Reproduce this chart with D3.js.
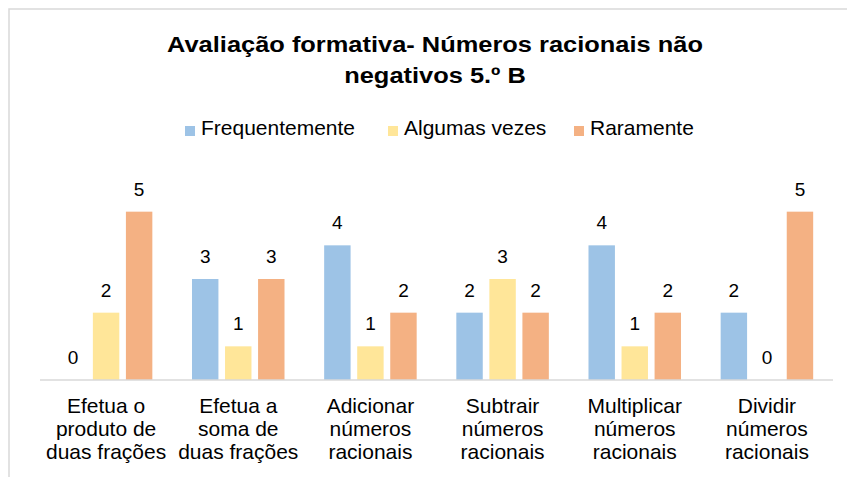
<!DOCTYPE html>
<html>
<head>
<meta charset="utf-8">
<script src="https://cdn.jsdelivr.net/npm/d3@7"></script>
<style>
  body { margin: 0; background: #fff; }
  text { font-family: "Liberation Sans", Arial, sans-serif; fill: #000; }
</style>
</head>
<body>
<div id="chart"></div>
<script>
// data
const categories = [
  ["Efetua o", "produto de", "duas frações"],
  ["Efetua a", "soma de", "duas frações"],
  ["Adicionar", "números", "racionais"],
  ["Subtrair", "números", "racionais"],
  ["Multiplicar", "números", "racionais"],
  ["Dividir", "números", "racionais"]
];
const seriesNames = ["Frequentemente", "Algumas vezes", "Raramente"];
const frequentemente = [0, 3, 4, 2, 4, 2];
const algumasVezes = [2, 1, 1, 3, 1, 0];
const raramente = [5, 3, 2, 2, 2, 5];
const seriesColors = ["#9dc3e6", "#ffe699", "#f4b183"];
const titleLines = ["Avaliação formativa- Números racionais não", "negativos 5.º B"];

const W = 847, H = 477;
const svg = d3.select("#chart").append("svg").attr("width", W).attr("height", H);

// chart frame (cut at right / bottom like the source)
svg.append("rect")
  .attr("x", 9).attr("y", 9)
  .attr("width", W + 20).attr("height", H + 20)
  .attr("fill", "none").attr("stroke", "#d9d9d9").attr("stroke-width", 1.5);

// title (source font renders a bit wider, so stretch horizontally)
svg.append("g").attr("transform", "translate(435,0) scale(1.13,1)")
  .append("text")
  .attr("text-anchor", "middle")
  .style("font-size", "22.5px").style("font-weight", "bold")
  .selectAll("tspan").data(titleLines).join("tspan")
  .attr("x", 0).attr("y", (d, i) => 52 + i * 31)
  .text(d => d);

// legend
const legendX = [185, 388, 574];
const lg = svg.append("g").selectAll("g").data(seriesNames).join("g")
  .attr("transform", (d, i) => `translate(${legendX[i]},135)`);
lg.append("rect").attr("x", 0).attr("y", -9).attr("width", 10).attr("height", 10)
  .attr("fill", (d, i) => seriesColors[i]);
lg.append("text").attr("transform", "translate(16,0) scale(1.05,1)")
  .style("font-size", "20px").text(d => d);

// scales
const plot = {left: 40, right: 833, bottom: 380, top: 178};
const x0 = d3.scaleBand().domain(d3.range(categories.length)).range([plot.left, plot.right]);
const groupW = x0.bandwidth() * 0.7;
const x1 = d3.scaleBand().domain(d3.range(seriesNames.length)).range([0, groupW]).paddingInner(0.2);
const y = d3.scaleLinear().domain([0, 6]).range([plot.bottom, plot.top]);

const rows = categories.map((c, i) => [frequentemente[i], algumasVezes[i], raramente[i]]);

const groups = svg.append("g").selectAll("g").data(rows).join("g")
  .attr("transform", (d, i) => `translate(${x0(i) + (x0.bandwidth() - groupW) / 2},0)`);

groups.selectAll("rect").data(d => d).join("rect")
  .attr("x", (d, j) => x1(j))
  .attr("y", d => y(d))
  .attr("width", x1.bandwidth())
  .attr("height", d => y(0) - y(d))
  .attr("fill", (d, j) => seriesColors[j]);

groups.selectAll("text").data(d => d).join("text")
  .attr("x", (d, j) => x1(j) + x1.bandwidth() / 2)
  .attr("y", d => y(d) - 16)
  .attr("text-anchor", "middle")
  .style("font-size", "19px")
  .text(d => d);

// baseline
svg.append("line")
  .attr("x1", plot.left).attr("x2", plot.right)
  .attr("y1", y(0)).attr("y2", y(0))
  .attr("stroke", "#d9d9d9").attr("stroke-width", 1.5);

// category labels
svg.append("g").selectAll("g").data(categories).join("g")
  .attr("transform", (d, i) => `translate(${x0(i) + x0.bandwidth() / 2},0) scale(1.05,1)`)
  .append("text")
  .attr("text-anchor", "middle")
  .style("font-size", "20px")
  .selectAll("tspan").data(d => d).join("tspan")
  .attr("x", 0)
  .attr("y", (d, k) => 413 + k * 23)
  .text(d => d);
</script>
</body>
</html>
